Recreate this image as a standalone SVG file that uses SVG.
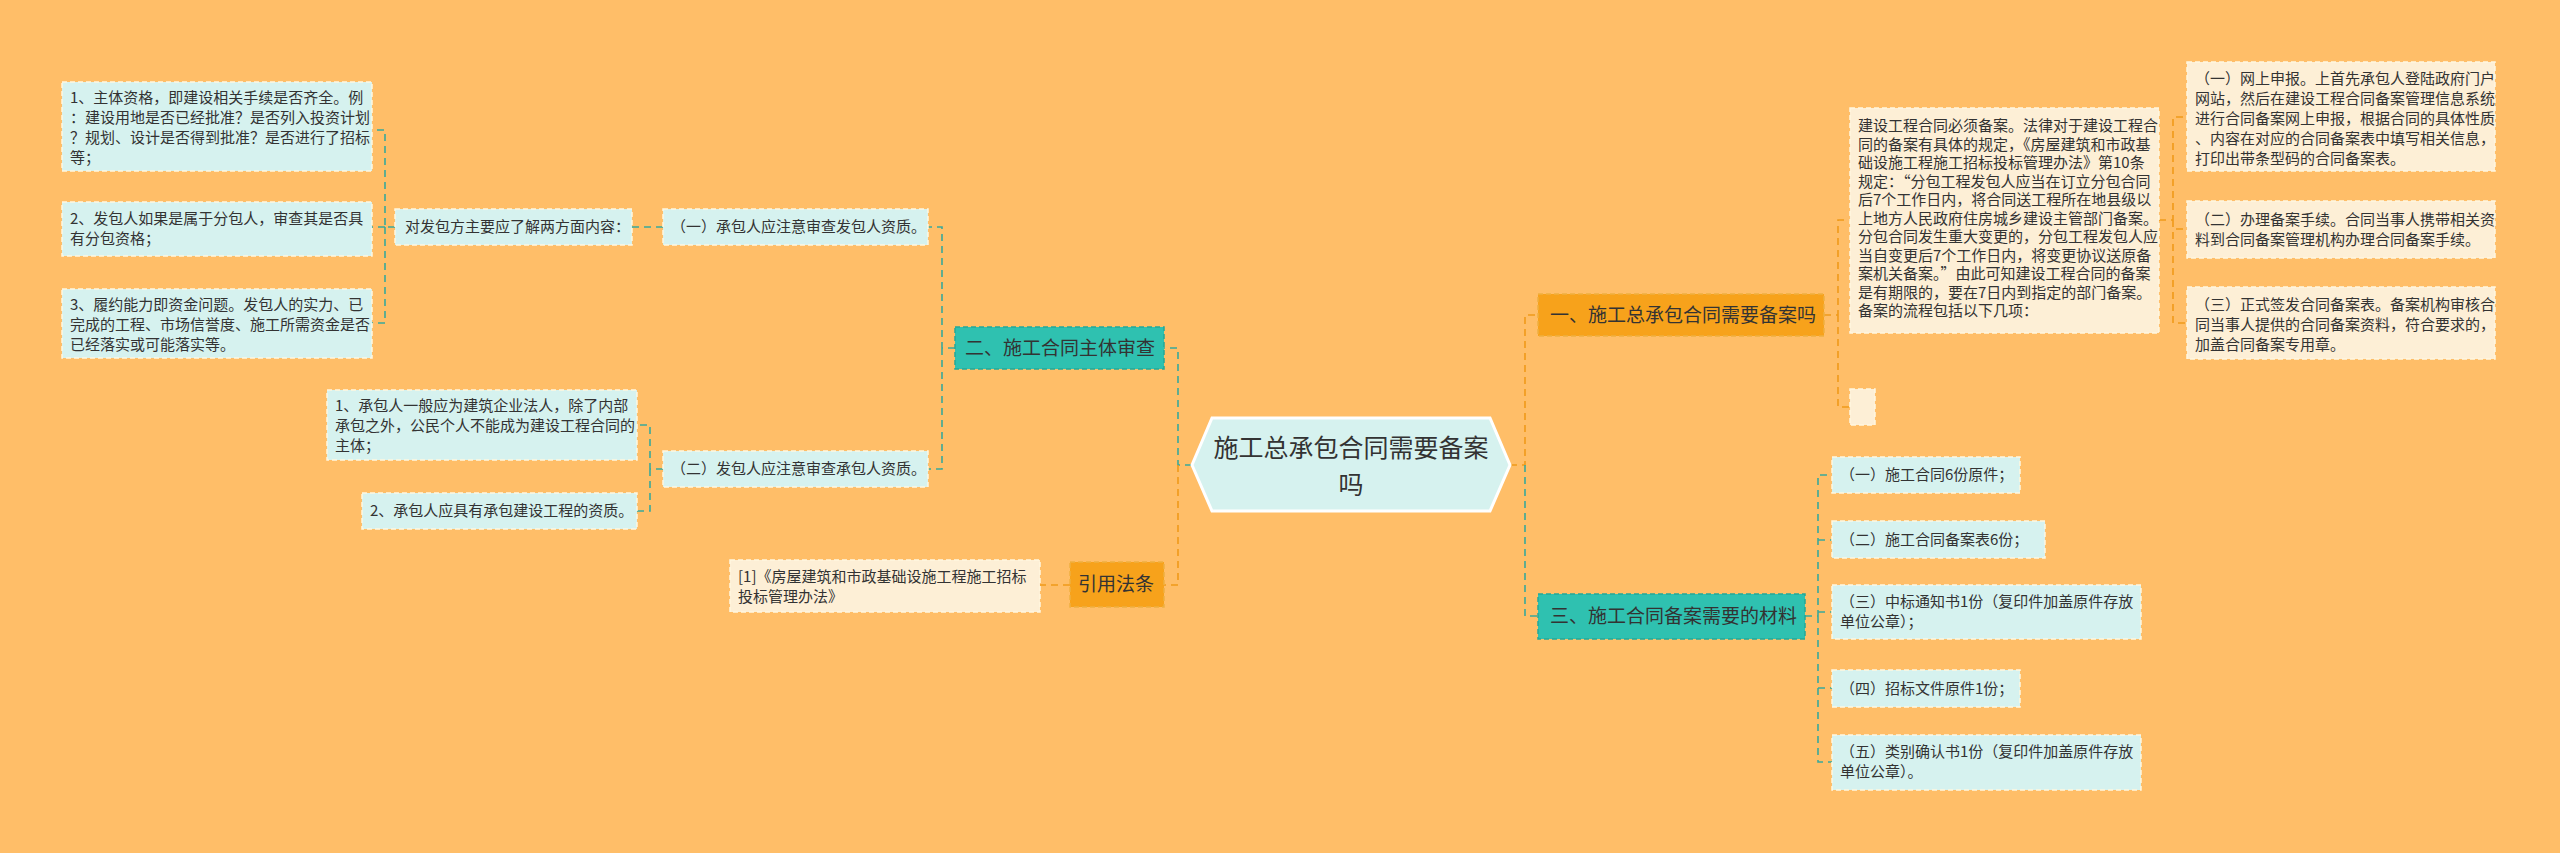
<svg xmlns="http://www.w3.org/2000/svg" width="2560" height="853" viewBox="0 0 2560 853">
<style>
text{font-family:"Noto Sans CJK SC","Liberation Sans",sans-serif;fill:#333}
.lb{fill:#d6f2ef;stroke:#fff7e0;stroke-width:1.5;stroke-dasharray:5 3}
.cr{fill:#fdefd6;stroke:#fff7e0;stroke-width:1.5;stroke-dasharray:5 3}
.tl{fill:#2fc1b0;stroke:#25a898;stroke-width:1.5;stroke-dasharray:5 3}
.or{fill:#f7a21b;stroke:#f0b040;stroke-width:1.5;stroke-dasharray:5 3}
.s{font-size:15px}
.m{font-size:19px}
.ct{stroke:#3aa99a;stroke-width:1.6;fill:none;stroke-dasharray:7 5}
.co{stroke:#f09a1a;stroke-width:1.6;fill:none;stroke-dasharray:7 5}
</style>
<rect width="2560" height="853" fill="#ffbe68"/>
<g id="connectors">
<path class="ct" d="M1192 465H1178V348H1164"/>
<path class="co" d="M1178 465V585H1164"/>
<path class="ct" d="M955 348H942V227H928M942 348V469H928"/>
<path class="ct" d="M663 227H632"/>
<path class="ct" d="M395 227H385V130H372M385 227H372M385 227V323H372"/>
<path class="ct" d="M663 469H650V425H637M650 469V511H637"/>
<path class="co" d="M1070 585H1040"/>
<path class="co" d="M1510 465H1525V315H1538"/>
<path class="ct" d="M1525 465V616H1538"/>
<path class="co" d="M1824 315H1838V220H1850M1838 315V407H1850"/>
<path class="co" d="M2159 220H2173V117H2187M2173 220V229H2187M2173 220V323H2187"/>
<path class="ct" d="M1805 616H1818V475H1832M1818 540H1832M1818 612H1832M1818 688H1832M1818 616V762H1832"/>
</g>
<g id="center">
<polygon points="1212,418 1490,418 1510,465 1490,511 1212,511 1192,465" fill="#d6f2ef" stroke="#fff" stroke-width="3"/>
<text x="1351" y="457" font-size="25" text-anchor="middle">施工总承包合同需要备案</text>
<text x="1351" y="494" font-size="25" text-anchor="middle">吗</text>
</g>
<g id="n1"><rect class="or" x="1538" y="294" width="286" height="42"/><text class="m" x="1550" y="322">一、施工总承包合同需要备案吗</text></g>
<g id="n1a"><rect class="cr" x="1850" y="108" width="309" height="225"/>
<text class="s" x="1858" y="131">建设工程合同必须备案。法律对于建设工程合</text>
<text class="s" x="1858" y="149.5">同的备案有具体的规定，《房屋建筑和市政基</text>
<text class="s" x="1858" y="168">础设施工程施工招标投标管理办法》第10条</text>
<text class="s" x="1858" y="186.5">规定：“分包工程发包人应当在订立分包合同</text>
<text class="s" x="1858" y="205">后7个工作日内，将合同送工程所在地县级以</text>
<text class="s" x="1858" y="223.5">上地方人民政府住房城乡建设主管部门备案。</text>
<text class="s" x="1858" y="242">分包合同发生重大变更的，分包工程发包人应</text>
<text class="s" x="1858" y="260.5">当自变更后7个工作日内，将变更协议送原备</text>
<text class="s" x="1858" y="279">案机关备案。”由此可知建设工程合同的备案</text>
<text class="s" x="1858" y="297.5">是有期限的，要在7日内到指定的部门备案。</text>
<text class="s" x="1858" y="316">备案的流程包括以下几项：</text></g>
<g id="n1b"><rect class="cr" x="1850" y="389" width="25" height="36"/></g>
<g id="n1c"><rect class="cr" x="2187" y="62" width="308" height="109"/>
<text class="s" x="2195" y="84">（一）网上申报。上首先承包人登陆政府门户</text>
<text class="s" x="2195" y="104">网站，然后在建设工程合同备案管理信息系统</text>
<text class="s" x="2195" y="124">进行合同备案网上申报，根据合同的具体性质</text>
<text class="s" x="2195" y="144">、内容在对应的合同备案表中填写相关信息，</text>
<text class="s" x="2195" y="164">打印出带条型码的合同备案表。</text></g>
<g id="n1d"><rect class="cr" x="2187" y="201" width="308" height="57"/>
<text class="s" x="2195" y="225">（二）办理备案手续。合同当事人携带相关资</text>
<text class="s" x="2195" y="245">料到合同备案管理机构办理合同备案手续。</text></g>
<g id="n1e"><rect class="cr" x="2187" y="287" width="308" height="72"/>
<text class="s" x="2195" y="310">（三）正式签发合同备案表。备案机构审核合</text>
<text class="s" x="2195" y="330">同当事人提供的合同备案资料，符合要求的，</text>
<text class="s" x="2195" y="350">加盖合同备案专用章。</text></g>
<g id="n3"><rect class="tl" x="1538" y="594" width="267" height="45"/><text class="m" x="1550" y="623">三、施工合同备案需要的材料</text></g>
<g id="n3a"><rect class="lb" x="1832" y="457" width="188" height="36"/><text class="s" x="1840" y="480">（一）施工合同6份原件；</text></g>
<g id="n3b"><rect class="lb" x="1832" y="521" width="213" height="37"/><text class="s" x="1840" y="545">（二）施工合同备案表6份；</text></g>
<g id="n3c"><rect class="lb" x="1832" y="585" width="309" height="54"/><text class="s" x="1840" y="607">（三）中标通知书1份（复印件加盖原件存放</text><text class="s" x="1840" y="627">单位公章）；</text></g>
<g id="n3d"><rect class="lb" x="1832" y="670" width="188" height="37"/><text class="s" x="1840" y="694">（四）招标文件原件1份；</text></g>
<g id="n3e"><rect class="lb" x="1832" y="735" width="309" height="55"/><text class="s" x="1840" y="757">（五）类别确认书1份（复印件加盖原件存放</text><text class="s" x="1840" y="777">单位公章）。</text></g>
<g id="n2"><rect class="tl" x="955" y="327" width="209" height="42"/><text class="m" x="965" y="355">二、施工合同主体审查</text></g>
<g id="n2a"><rect class="lb" x="663" y="209" width="265" height="36"/><text class="s" x="671" y="232">（一）承包人应注意审查发包人资质。</text></g>
<g id="n2a1"><rect class="lb" x="395" y="209" width="237" height="36"/><text class="s" x="405" y="232">对发包方主要应了解两方面内容：</text></g>
<g id="b1"><rect class="lb" x="62" y="82" width="310" height="89"/>
<text class="s" x="70" y="103">1、主体资格，即建设相关手续是否齐全。例</text>
<text class="s" x="70" y="123">：建设用地是否已经批准？是否列入投资计划</text>
<text class="s" x="70" y="143">？规划、设计是否得到批准？是否进行了招标</text>
<text class="s" x="70" y="163">等；</text></g>
<g id="b2"><rect class="lb" x="62" y="202" width="310" height="54"/>
<text class="s" x="70" y="224">2、发包人如果是属于分包人，审查其是否具</text>
<text class="s" x="70" y="244">有分包资格；</text></g>
<g id="b3"><rect class="lb" x="62" y="289" width="310" height="69"/>
<text class="s" x="70" y="310">3、履约能力即资金问题。发包人的实力、已</text>
<text class="s" x="70" y="330">完成的工程、市场信誉度、施工所需资金是否</text>
<text class="s" x="70" y="350">已经落实或可能落实等。</text></g>
<g id="n2b"><rect class="lb" x="663" y="451" width="265" height="36"/><text class="s" x="671" y="474">（二）发包人应注意审查承包人资质。</text></g>
<g id="s1"><rect class="lb" x="327" y="390" width="310" height="70"/>
<text class="s" x="335" y="411">1、承包人一般应为建筑企业法人，除了内部</text>
<text class="s" x="335" y="431">承包之外，公民个人不能成为建设工程合同的</text>
<text class="s" x="335" y="451">主体；</text></g>
<g id="s2"><rect class="lb" x="362" y="493" width="275" height="36"/><text class="s" x="370" y="516">2、承包人应具有承包建设工程的资质。</text></g>
<g id="n4"><rect class="or" x="1070" y="562" width="94" height="45"/><text class="m" x="1078" y="591">引用法条</text></g>
<g id="n4a"><rect class="cr" x="730" y="560" width="310" height="52"/>
<text class="s" x="738" y="582">[1]《房屋建筑和市政基础设施工程施工招标</text>
<text class="s" x="738" y="602">投标管理办法》</text></g>
</svg>
